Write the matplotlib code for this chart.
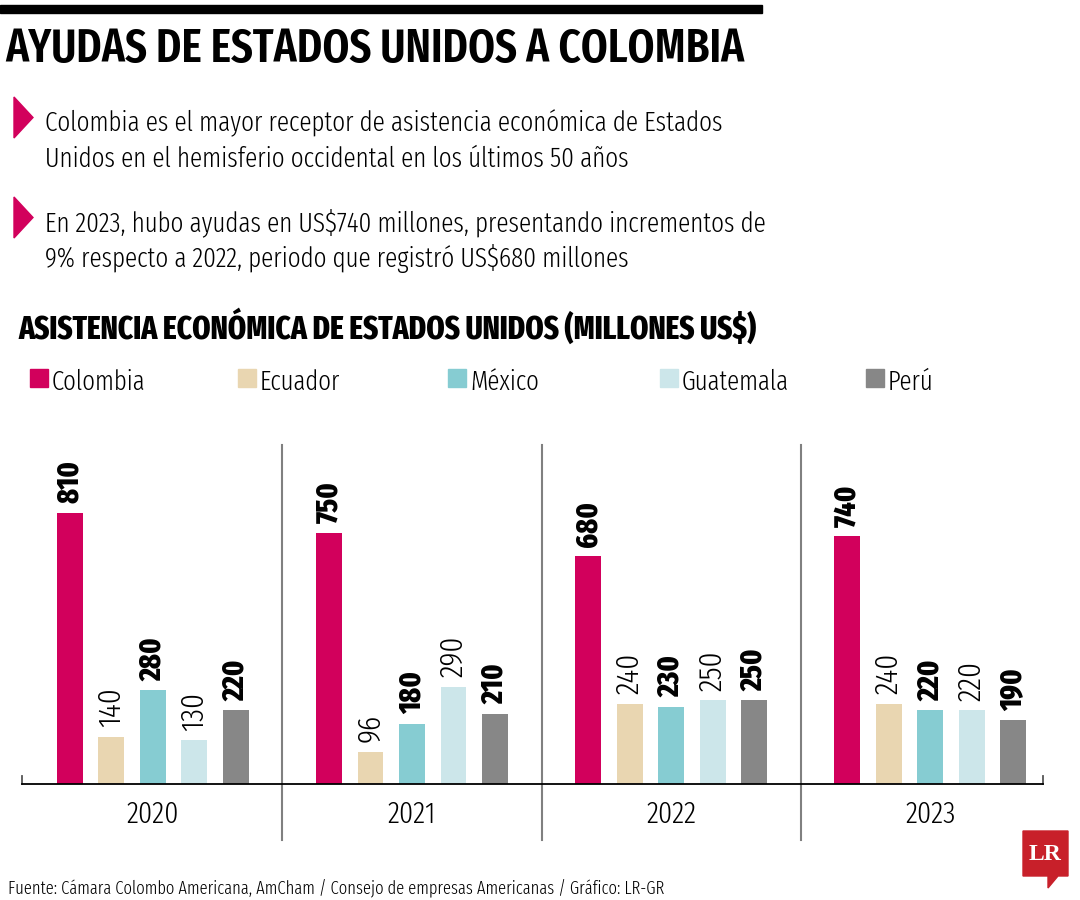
import matplotlib
matplotlib.use('Agg')
import matplotlib.pyplot as plt
from matplotlib.patches import Polygon, Rectangle
import numpy as np

# Data
years = ['2020', '2021', '2022', '2023']
countries = ['Colombia', 'Ecuador', 'México', 'Guatemala', 'Perú']
colombia = [810, 750, 680, 740]
ecuador = [140, 96, 240, 240]
mexico = [280, 180, 230, 220]
guatemala = [130, 290, 250, 220]
peru = [220, 210, 250, 190]

colors = ['#D2005C', '#E9D6B1', '#86CCD2', '#CCE6EA', '#878787']
bold_series = [True, False, True, False, True]

title = 'AYUDAS DE ESTADOS UNIDOS A COLOMBIA'
subtitle = 'ASISTENCIA ECONÓMICA DE ESTADOS UNIDOS (MILLONES US$)'
bullet1 = ['Colombia es el mayor receptor de asistencia económica de Estados',
           'Unidos en el hemisferio occidental en los últimos 50 años']
bullet2 = ['En 2023, hubo ayudas en US$740 millones, presentando incrementos de',
           '9% respecto a 2022, periodo que registró US$680 millones']
source = 'Fuente: Cámara Colombo Americana, AmCham / Consejo de empresas Americanas / Gráfico: LR-GR'

plt.rcParams['font.family'] = ['Fira Sans Extra Condensed', 'DejaVu Sans']

W, H = 1080, 900
fig = plt.figure(figsize=(W/100, H/100), dpi=100)
renderer = fig.canvas.get_renderer()

def fx(px):
    return px / W

def fy(py):
    return 1 - py / H

# scale a text so its width (or height if rotated) matches a pixel size
def fit(t, target, vertical=False):
    bb = t.get_window_extent(renderer)
    size = bb.height if vertical else bb.width
    t.set_fontsize(t.get_fontsize() * target / size)
    return t.get_fontsize()

# Top bar
fig.patches.append(Rectangle((0, fy(13)), fx(762), 8/H, transform=fig.transFigure,
                             color='black', zorder=1))

t = fig.text(fx(5), fy(62), title, fontsize=24, fontweight=600, va='baseline', ha='left')
fit(t, 740)

# Bullets
t = fig.text(fx(45), fy(231), bullet2[0], fontsize=18, fontweight=300, va='baseline', ha='left')
body_fs = fit(t, 725)
fig.text(fx(45), fy(267), bullet2[1], fontsize=body_fs, fontweight=300, va='baseline', ha='left')
fig.text(fx(45), fy(131), bullet1[0], fontsize=body_fs, fontweight=300, va='baseline', ha='left')
fig.text(fx(45), fy(167), bullet1[1], fontsize=body_fs, fontweight=300, va='baseline', ha='left')
for ytop in [97, 197]:
    fig.patches.append(Polygon([[fx(14), fy(ytop)], [fx(14), fy(ytop + 41)],
                                [fx(33), fy(ytop + 20.5)]], closed=True,
                               transform=fig.transFigure, color=colors[0]))

t = fig.text(fx(18), fy(339), subtitle, fontsize=19, fontweight=800, va='baseline', ha='left')
fit(t, 739)

# Legend
leg_x = [30, 238, 448, 660, 866]
leg_fs = None
for name, c, lx in zip(countries, colors, leg_x):
    fig.patches.append(Rectangle((fx(lx), fy(387)), fx(18), 18/H,
                                 transform=fig.transFigure, color=c))
    t = fig.text(fx(lx + 22), fy(390), name, fontsize=17, fontweight=300,
                 va='baseline', ha='left')
    if leg_fs is None:
        leg_fs = fit(t, 94)
    else:
        t.set_fontsize(leg_fs)

# Chart
ax = fig.add_axes([fx(22), fy(784), fx(1043 - 22), (784 - 440)/H])
series = [colombia, ecuador, mexico, guatemala, peru]
x = np.arange(len(years))
offsets = (np.arange(5) - 2) * 0.16

probe = fig.text(0, 0, '810', rotation=90, fontsize=16, fontweight=800)
bold_fs = fit(probe, 43, vertical=True)
probe.remove()
probe = fig.text(0, 0, '140', rotation=90, fontsize=16, fontweight=300)
light_fs = fit(probe, 40, vertical=True)
probe.remove()

for vals, c, off, b in zip(series, colors, offsets, bold_series):
    bars = ax.bar(x + off, vals, width=0.1, color=c)
    for rect, v in zip(bars, vals):
        ax.annotate(str(v), (rect.get_x() + rect.get_width()/2, v),
                    xytext=(0, 7), textcoords='offset points',
                    rotation=90, ha='center', va='bottom',
                    fontsize=bold_fs if b else light_fs,
                    fontweight=800 if b else 300)

ax.set_xlim(-0.505, 3.435)
ax.set_ylim(0, 1028)
for s in ['top', 'right', 'left']:
    ax.spines[s].set_visible(False)
ax.spines['bottom'].set_linewidth(1.3)
ax.set_yticks([])
ax.set_xticks(x)
ax.set_xticklabels(years, fontsize=22, fontweight=300)
ax.tick_params(axis='x', length=0, pad=12)
for sx in [-0.505, 3.435]:
    ax.plot([sx, sx], [0, 25], color='#555555', lw=1.3, clip_on=False)
for sx in [0.5, 1.5, 2.5]:
    ax.axvline(sx, ymin=-0.163, ymax=0.985, color='#808080', lw=1.5, clip_on=False)

t = fig.text(fx(8), fy(893), source, fontsize=12, fontweight=300, va='baseline', ha='left')
fit(t, 658)

# Logo
fig.patches.append(Polygon([[fx(1023), fy(831)], [fx(1068), fy(831)], [fx(1068), fy(876)],
                            [fx(1058), fy(876)], [fx(1048), fy(888)], [fx(1048), fy(876)],
                            [fx(1023), fy(876)]], closed=True,
                           transform=fig.transFigure, color='#C8202A'))
fig.text(fx(1045.5), fy(854), 'LR', family='Liberation Serif', fontweight='bold',
         color='white', fontsize=17, ha='center', va='center')

fig.savefig('out.png', dpi=100)
